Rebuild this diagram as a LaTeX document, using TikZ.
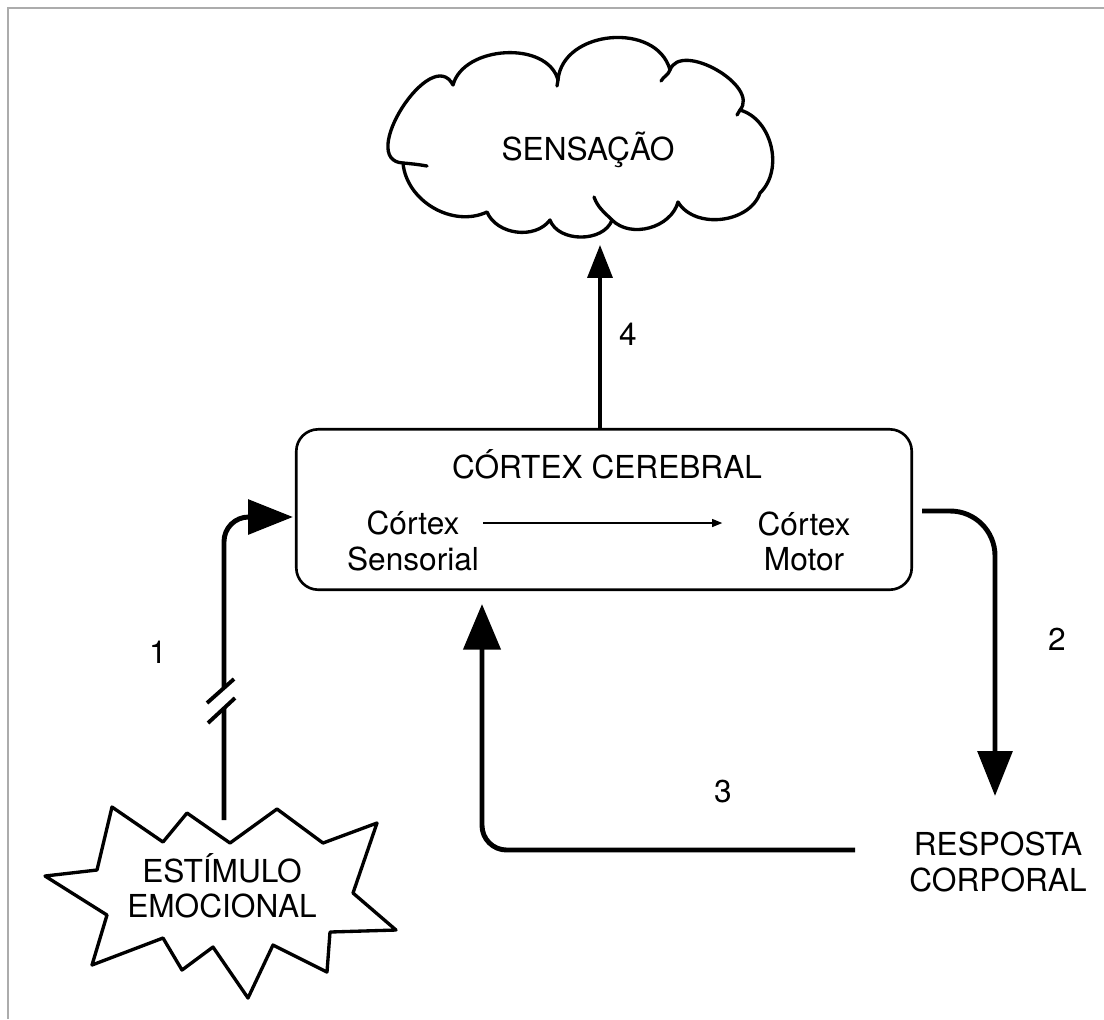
\documentclass[tikz,border=0pt]{standalone}
\usepackage{fontspec}
\setmainfont{TeX Gyre Heros}
\usetikzlibrary{arrows.meta}

\begin{document}
\begin{tikzpicture}[x=0.02cm, y=0.02cm,
  lbl/.style={font=\fontsize{18}{20}\selectfont, inner sep=0pt, text=black},
  outline/.style={line width=1.9pt, line join=round, line cap=round},
  flow/.style={line width=2.8pt},
  thinflow/.style={line width=2pt},
  cortexbox/.style={draw, line width=1.5pt, rounded corners=12.5pt,
    minimum width=350.3pt, minimum height=91.3pt, inner sep=0pt},
  bigtip/.style={-{Triangle[length=25.5pt, width=19.5pt]}},
  midtip/.style={-{Triangle[length=18.7pt, width=14.2pt]}},
  smalltip/.style={-{Triangle[length=5.7pt, width=4.5pt]}}
]
\useasboundingbox (0,0) rectangle (1104,-1019);

% thin grey frame on the top and left
\draw[gray!65, line width=1.2pt] (8,-1019) -- (8,-8) -- (1104,-8);

% cloud: SENSACAO
\draw[outline]
  (403,-163) to[out=177,in=117,looseness=1.3] (453,-85)
  to[out=75,in=105] (558,-80)
  to[out=85,in=105,looseness=1.15] (670,-70)
  to[out=70,in=50] (740,-110)
  to[out=-16,in=44] (760,-193)
  to[out=251,in=301] (678,-202)
  to[out=255,in=315] (612,-220)
  to[out=250,in=290] (550,-220)
  to[out=233,in=293] (487,-212)
  to[out=205,in=275] (403,-163);
% little inward curls where the puffs meet
\draw[outline] (403,-163) to[out=-5,in=170] (427,-166);
\draw[outline] (670,-70) to[out=250,in=60] (661,-81);
\draw[outline] (612,-220) to[out=135,in=-70] (594,-197);
\draw[outline] (558,-80) -- (557,-86);
\draw[outline] (740,-110) -- (737,-115);
\node[lbl, anchor=base] (sensacao) at (588,-160) {SENSAÇÃO};
\coordinate (cloudTip) at (600,-245);

% starburst: ESTIMULO EMOCIONAL
\draw[outline]
  (45,-876) -- (97,-870) -- (112,-807) -- (163,-842) -- (187,-813)
  -- (230,-843) -- (277,-809) -- (323,-843) -- (377,-823) -- (353,-893)
  -- (396,-930) -- (330,-932) -- (327,-972) -- (273,-945) -- (248,-998)
  -- (213,-947) -- (182,-970) -- (163,-938) -- (92,-965) -- (107,-915)
  -- cycle;
\node[lbl, align=center] (estimulo) at (222,-886) {ESTÍMULO\\EMOCIONAL};
\coordinate (burstTop) at (224,-820);

% cerebral cortex box and its contents
\node[cortexbox] (box) at (604,-509.5) {};
\node[lbl, anchor=base] (cerebral) at (607,-478) {CÓRTEX CEREBRAL};
\node[lbl, align=center] (cs) at (413,-541) {Córtex\\Sensorial};
\node[lbl, align=center] (cm) at (804,-541) {Córtex\\Motor};
\draw[line width=0.7pt, smalltip]
  ([shift={(4,18)}]cs.east) -- ([shift={(-35,18)}]cm.west);

% bodily response
\node[lbl, align=center] (resposta) at (998,-862) {RESPOSTA\\CORPORAL};

% 1: emotional stimulus to the cortex, with a break
\draw[flow, bigtip, rounded corners=14pt]
  (burstTop) -- ++(0,112) ++(0,20) |- ([shift={(-2,-7.5)}]box.west);
\draw[line width=2.2pt] (207,-703) -- (234,-679);
\draw[line width=2.2pt] (208,-723) -- (235,-698);

% 2: motor cortex to bodily response
\draw[flow, bigtip, rounded corners=25.5pt]
  ([shift={(9,-1.5)}]box.east) -| ([shift={(-3,36)}]resposta.north);

% 3: bodily response back to the cortex
\draw[flow, -{Triangle[length=26pt, width=21pt]}, rounded corners=14pt]
  ([shift={(-54,12)}]resposta.west) -| ([shift={(-122,-13)}]box.south);

% 4: cortex to sensation
\draw[thinflow, midtip] ([shift={(-4,0)}]box.north) -- (cloudTip);

% step numbers
\node[lbl, anchor=base] (n1) at (158,-663) {1};
\node[lbl, anchor=base] (n2) at (1057,-650) {2};
\node[lbl, anchor=base] (n3) at (723,-802) {3};
\node[lbl, anchor=base] (n4) at (628,-345) {4};
\end{tikzpicture}
\end{document}
